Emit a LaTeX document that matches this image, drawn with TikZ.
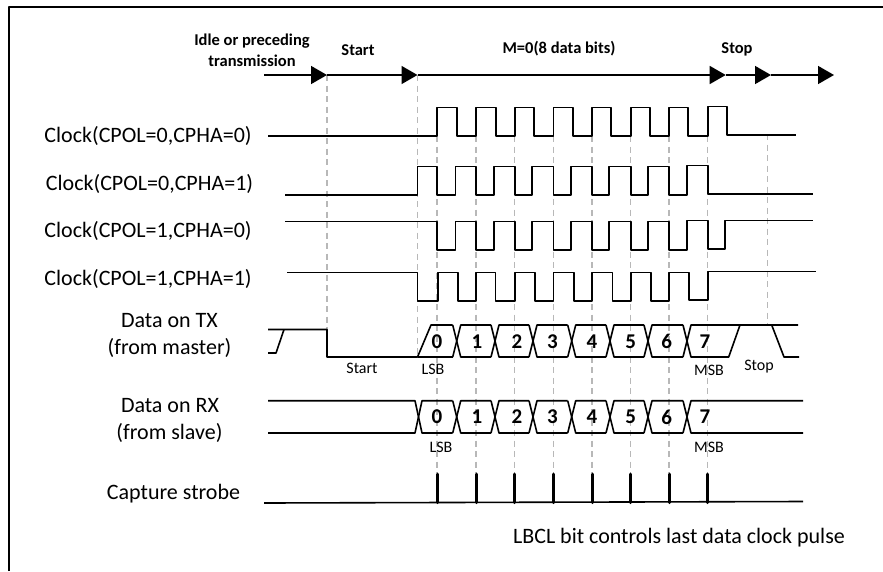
\documentclass[tikz,border=0pt]{standalone}
\usepackage{fontspec}
\setmainfont{Carlito}
\usetikzlibrary{arrows.meta}
\tikzset{
	wave/.style={line width=1.6,black},
	guide/.style={line width=1.2,black!28,dash pattern=on 6pt off 4.5pt},
	phase/.style={line width=1.5,-{Triangle[length=16pt,width=18pt]}},
	siglabel/.style={font=\fontsize{22}{24}\selectfont,inner sep=0},
	headlabel/.style={font=\fontsize{16.5}{18}\selectfont\bfseries,inner sep=0},
	bitlabel/.style={font=\fontsize{21}{24}\selectfont\bfseries,inner sep=0},
	smalllabel/.style={font=\fontsize{16}{18}\selectfont,inner sep=0}
}
\begin{document}
\begin{tikzpicture}[x=1pt,y=-1pt,line join=round]
	\useasboundingbox (0,0) rectangle (883,571);
	\draw[line width=1.8] (9,571) -- (9,7) -- (883,7);
	% dashed guides
	\draw[guide] (327,75) -- (327,329);
	\draw[guide] (417.5,75) -- (417.5,357);
	\foreach \x in {437,476,514.7,553.3,592,630.7,669,707.7}
		\draw[guide] (\x,136) -- (\x,473);
	\draw[guide] (767.7,134) -- (767.7,325);
	% phase arrows
	\draw[phase] (264,75) -- (327,75);
	\draw[phase] (327,75) -- (417.5,75);
	\draw[phase] (417.5,75) -- (725.7,75);
	\draw[phase] (725.7,75) -- (771,75);
	\draw[phase] (771,75) -- (834,75);
	\node[headlabel] (idle1) at (252,41) {Idle or preceding};
	\node[headlabel] (idle2) at (252,61) {transmission};
	\node[headlabel] (start) at (358,50) {Start};
	\node[headlabel] (bits) at (559,49) {M=0(8 data bits)};
	\node[headlabel] (stop) at (737,49) {Stop};
	% clocks
	\draw[wave] (268,136) -| (437,107.5) -| (457,136) -| (476,107.5) -| (495.7,136) -| (514.7,107.5) -| (534,136) -| (553.3,107.5) -| (572.7,136) -| (592,107.5) -| (611,136) -| (630.7,107.5) -| (650,136) -| (669,107.5) -| (688,136) -| (707.7,106.5) -| (727,135) -- (796,135);
	\draw[wave] (285,195) -| (417.5,166.5) -| (437,195) -| (455.3,166.5) -| (476,195) -| (494,166.5) -| (514.7,195) -| (532,166.5) -| (553.3,195) -| (571,166.5) -| (592,195) -| (609,166.5) -| (630.7,195) -| (648,166.5) -| (669,195) -| (687,165.5) -| (707.7,194) -- (813,194);
	\draw[wave] (285,221.5) -| (437,250) -| (455.3,221.5) -| (476,250) -| (494,221.5) -| (514.7,250) -| (532,221.5) -| (553.3,250) -| (571,221.5) -| (592,250) -| (609,221.5) -| (630.7,250) -| (648,221.5) -| (669,250) -| (687,220.5) -| (707.7,249) -| (725,220.5) -- (813,220.5);
	\draw[wave] (287,272.5) -| (417.5,301) -| (438,272.5) -| (458,301) -| (476,272.5) -| (495.3,301) -| (514.7,272.5) -| (535,301) -| (553.3,272.5) -| (574,301) -| (592,272.5) -| (612.6,301) -| (630.7,272.5) -| (651,301) -| (669,272.5) -| (689,300) -| (707.7,271.5) -- (815.7,271.5);
	\node[siglabel] (clk1) at (148,135.5) {Clock(CPOL=0,CPHA=0)};
	\node[siglabel] (clk2) at (149.5,183.5) {Clock(CPOL=0,CPHA=1)};
	\node[siglabel] (clk3) at (148,230.5) {Clock(CPOL=1,CPHA=0)};
	\node[siglabel] (clk4) at (148,278.5) {Clock(CPOL=1,CPHA=1)};
	% data on TX
	\draw[wave] (268,329.5) -- (327,329.5) -- (327,357) -- (417.5,357) -- (431,325) -- (452.7,325);
	\draw[wave] (268,353) -- (276,353) -- (284,329.5);
	\draw[wave] (417.5,357) -- (452.7,357);
	\foreach \a/\b in {456.7/495,495/533,533/571.7,571.7/610,610/648,648/687}{
		\draw[wave] (\a-4,325) -- (\a+4,357) -- (\b-4,357);
		\draw[wave] (\a-4,357) -- (\a+4,325) -- (\b-4,325);
	}
	\draw[wave] (683,325) -- (691,357) -- (728.7,357) -- (740,325);
	\draw[wave] (683,357) -- (691,325) -- (798,325);
	\draw[wave] (771.7,325) -- (784,357) -- (799,357);
	\node[siglabel] (txa) at (169.5,320.5) {Data on TX};
	\node[siglabel] (txb) at (169.5,347.5) {(from master)};
	\node[smalllabel] (txstart) at (362,368) {Start};
	\node[smalllabel] (txlsb) at (433,369.5) {LSB};
	\node[smalllabel] (txmsb) at (709,370) {MSB};
	\node[smalllabel] (txstop) at (759,367) {Stop};
	% data on RX
	\draw[wave] (268,400.7) -- (415,400.7) -- (422,433) -- (452.7,433);
	\draw[wave] (268,433) -- (415,433) -- (422,400.7) -- (452.7,400.7);
	\foreach \a/\b in {456.7/495,495/533,533/571.7,571.7/610,610/648,648/687}{
		\draw[wave] (\a-4,400.7) -- (\a+4,433) -- (\b-4,433);
		\draw[wave] (\a-4,433) -- (\a+4,400.7) -- (\b-4,400.7);
	}
	\draw[wave] (683,400.7) -- (691,433) -- (803,433);
	\draw[wave] (683,433) -- (691,400.7) -- (803,400.7);
	\node[siglabel] (rxa) at (170,405.5) {Data on RX};
	\node[siglabel] (rxb) at (169.5,432.5) {(from slave)};
	\node[smalllabel] (rxlsb) at (441,447) {LSB};
	\node[smalllabel] (rxmsb) at (709,447) {MSB};
	% bit numbers
	\foreach \x/\n in {437/0,477/1,517/2,552.5/3,592/4,630.7/5,666.7/6,705/7}{
		\node[bitlabel] (tx\n) at (\x,341.5) {\n};
		\node[bitlabel] (rx\n) at (\x,417) {\n};
	}
	% capture strobe
	\draw[wave] (264,503) -- (803,501.5);
	\foreach \x in {437,476,514.7,553.3,592,630.7,669,707.7}
		\draw[line width=3,line cap=round] (\x,474) -- (\x,502.5);
	\node[siglabel] (strobe) at (173.5,493.5) {Capture strobe};
	\node[siglabel] (lbcl) at (679,537.5) {LBCL bit controls last data clock pulse};
\end{tikzpicture}
\end{document}
